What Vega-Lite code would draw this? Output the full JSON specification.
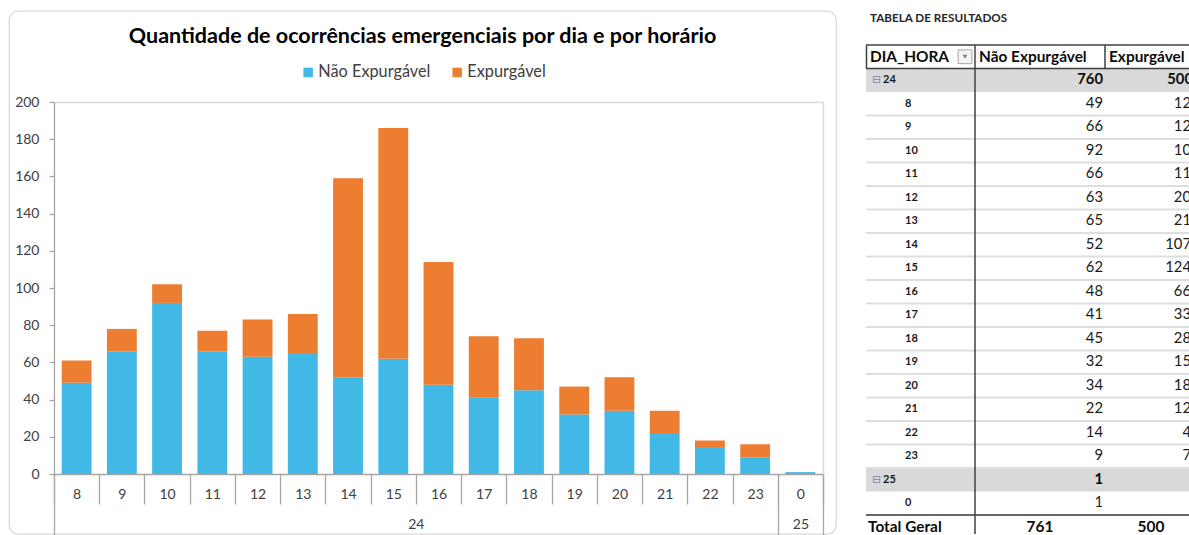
{
  "$schema": "https://vega.github.io/schema/vega-lite/v6.json",
  "background": "white",
  "padding": {"left": 8, "top": 10, "right": 0, "bottom": 0},
  "spacing": 17,
  "config": {"font": "Lato", "view": {"stroke": null}},
  "datasets": {
    "ocorrencias": [
      {"dia": "24", "hora": "8", "tipo": "Não Expurgável", "qtd": 49},
      {"dia": "24", "hora": "8", "tipo": "Expurgável", "qtd": 12},
      {"dia": "24", "hora": "9", "tipo": "Não Expurgável", "qtd": 66},
      {"dia": "24", "hora": "9", "tipo": "Expurgável", "qtd": 12},
      {"dia": "24", "hora": "10", "tipo": "Não Expurgável", "qtd": 92},
      {"dia": "24", "hora": "10", "tipo": "Expurgável", "qtd": 10},
      {"dia": "24", "hora": "11", "tipo": "Não Expurgável", "qtd": 66},
      {"dia": "24", "hora": "11", "tipo": "Expurgável", "qtd": 11},
      {"dia": "24", "hora": "12", "tipo": "Não Expurgável", "qtd": 63},
      {"dia": "24", "hora": "12", "tipo": "Expurgável", "qtd": 20},
      {"dia": "24", "hora": "13", "tipo": "Não Expurgável", "qtd": 65},
      {"dia": "24", "hora": "13", "tipo": "Expurgável", "qtd": 21},
      {"dia": "24", "hora": "14", "tipo": "Não Expurgável", "qtd": 52},
      {"dia": "24", "hora": "14", "tipo": "Expurgável", "qtd": 107},
      {"dia": "24", "hora": "15", "tipo": "Não Expurgável", "qtd": 62},
      {"dia": "24", "hora": "15", "tipo": "Expurgável", "qtd": 124},
      {"dia": "24", "hora": "16", "tipo": "Não Expurgável", "qtd": 48},
      {"dia": "24", "hora": "16", "tipo": "Expurgável", "qtd": 66},
      {"dia": "24", "hora": "17", "tipo": "Não Expurgável", "qtd": 41},
      {"dia": "24", "hora": "17", "tipo": "Expurgável", "qtd": 33},
      {"dia": "24", "hora": "18", "tipo": "Não Expurgável", "qtd": 45},
      {"dia": "24", "hora": "18", "tipo": "Expurgável", "qtd": 28},
      {"dia": "24", "hora": "19", "tipo": "Não Expurgável", "qtd": 32},
      {"dia": "24", "hora": "19", "tipo": "Expurgável", "qtd": 15},
      {"dia": "24", "hora": "20", "tipo": "Não Expurgável", "qtd": 34},
      {"dia": "24", "hora": "20", "tipo": "Expurgável", "qtd": 18},
      {"dia": "24", "hora": "21", "tipo": "Não Expurgável", "qtd": 22},
      {"dia": "24", "hora": "21", "tipo": "Expurgável", "qtd": 12},
      {"dia": "24", "hora": "22", "tipo": "Não Expurgável", "qtd": 14},
      {"dia": "24", "hora": "22", "tipo": "Expurgável", "qtd": 4},
      {"dia": "24", "hora": "23", "tipo": "Não Expurgável", "qtd": 9},
      {"dia": "24", "hora": "23", "tipo": "Expurgável", "qtd": 7},
      {"dia": "25", "hora": "0", "tipo": "Não Expurgável", "qtd": 1}
    ],
    "tabela": [
      {"r": 1, "tipo": "grupo", "rotulo": "24", "ne": 760, "e": 500},
      {"r": 2, "tipo": "hora", "rotulo": "8", "ne": 49, "e": 12},
      {"r": 3, "tipo": "hora", "rotulo": "9", "ne": 66, "e": 12},
      {"r": 4, "tipo": "hora", "rotulo": "10", "ne": 92, "e": 10},
      {"r": 5, "tipo": "hora", "rotulo": "11", "ne": 66, "e": 11},
      {"r": 6, "tipo": "hora", "rotulo": "12", "ne": 63, "e": 20},
      {"r": 7, "tipo": "hora", "rotulo": "13", "ne": 65, "e": 21},
      {"r": 8, "tipo": "hora", "rotulo": "14", "ne": 52, "e": 107},
      {"r": 9, "tipo": "hora", "rotulo": "15", "ne": 62, "e": 124},
      {"r": 10, "tipo": "hora", "rotulo": "16", "ne": 48, "e": 66},
      {"r": 11, "tipo": "hora", "rotulo": "17", "ne": 41, "e": 33},
      {"r": 12, "tipo": "hora", "rotulo": "18", "ne": 45, "e": 28},
      {"r": 13, "tipo": "hora", "rotulo": "19", "ne": 32, "e": 15},
      {"r": 14, "tipo": "hora", "rotulo": "20", "ne": 34, "e": 18},
      {"r": 15, "tipo": "hora", "rotulo": "21", "ne": 22, "e": 12},
      {"r": 16, "tipo": "hora", "rotulo": "22", "ne": 14, "e": 4},
      {"r": 17, "tipo": "hora", "rotulo": "23", "ne": 9, "e": 7},
      {"r": 18, "tipo": "grupo", "rotulo": "25", "ne": 1, "e": null},
      {"r": 19, "tipo": "hora", "rotulo": "0", "ne": 1, "e": null},
      {"r": 20, "tipo": "total", "rotulo": "Total Geral", "ne": 761, "e": 500}
    ]
  },
  "hconcat": [
    {
      "width": 827,
      "height": 523,
      "view": {"stroke": "#d9d9d9", "strokeWidth": 1.3, "cornerRadius": 9, "fill": "white"},
      "title": {
        "text": "Quantidade de ocorrências emergenciais por dia e por horário",
        "anchor": "middle", "frame": "group", "offset": -36,
        "font": "Lato", "fontSize": 21.5, "fontWeight": "bold", "color": "#000000"
      },
      "layer": [
        {
          "data": {"name": "ocorrencias"},
          "mark": {"type": "bar", "width": {"band": 0.66}},
          "encoding": {
            "x": {
              "field": "hora", "type": "nominal", "sort": null,
              "scale": {"domain": ["8","9","10","11","12","13","14","15","16","17","18","19","20","21","22","23","0"], "range": [45, 814], "paddingInner": 0, "paddingOuter": 0},
              "axis": {
                "orient": "bottom", "offset": -60, "title": null,
                "domain": true, "domainColor": "#a6a6a6", "domainWidth": 1.3,
                "tickBand": "extent", "tickSize": 30, "tickColor": "#a6a6a6", "tickWidth": 1.3,
                "labelPadding": -17, "labelFont": "Lato", "labelFontSize": 14, "labelColor": "#404040", "labelAngle": 0, "labelOverlap": false, "labelBound": false,
                "grid": false
              }
            },
            "y": {
              "field": "qtd", "type": "quantitative", "stack": "zero",
              "scale": {"domain": [0, 200], "range": [463, 91], "nice": false, "zero": true},
              "axis": {
                "orient": "left", "offset": -45, "title": null,
                "values": [0, 20, 40, 60, 80, 100, 120, 140, 160, 180, 200],
                "domain": true, "domainColor": "#a6a6a6", "domainWidth": 1.3,
                "ticks": true, "tickSize": 5, "tickColor": "#a6a6a6", "tickWidth": 1.3,
                "labelPadding": 10, "labelFont": "Lato", "labelFontSize": 14, "labelColor": "#404040",
                "grid": false
              }
            },
            "color": {
              "field": "tipo", "type": "nominal",
              "scale": {"domain": ["Não Expurgável", "Expurgável"], "range": ["#41B8E6", "#ED7D31"]},
              "legend": {
                "orient": "none", "legendX": 291, "legendY": 53, "direction": "horizontal",
                "title": null, "symbolType": "square", "symbolSize": 90, "symbolStrokeWidth": 0,
                "labelFont": "Lato", "labelFontSize": 16.3, "labelColor": "#404040",
                "labelOffset": 2, "columnPadding": 18, "padding": 0
              }
            },
            "order": {"field": "tipo", "type": "ordinal", "sort": "descending"}
          }
        },
        {
          "data": {"name": "ocorrencias"},
          "mark": {"type": "tick", "opacity": 0},
          "encoding": {
            "x": {
              "field": "hora", "type": "nominal", "sort": null,
              "scale": {"domain": ["8","9","10","11","12","13","14","15","16","17","18","19","20","21","22","23","0"], "range": [45, 814], "paddingInner": 0, "paddingOuter": 0},
              "axis": {
                "orient": "bottom", "offset": -60, "title": null,
                "domain": false, "grid": false,
                "tickBand": "extent", "tickSize": 61, "tickColor": "#a6a6a6", "tickWidth": 1.3,
                "tickOpacity": {"condition": {"test": "datum.value === '23' || datum.value === '0' || datum.index < 0 || datum.extra", "value": 1}, "value": 0},
                "labelExpr": "datum.value === '15' ? '24' : datum.value === '0' ? '25' : ''",
                "labelOffset": {"condition": {"test": "datum.value === '15'", "value": 22.6}, "value": 0},
                "labelPadding": -18, "labelFont": "Lato", "labelFontSize": 14, "labelColor": "#404040", "labelAngle": 0, "labelOverlap": false, "labelBound": false
              }
            }
          }
        },
        {
          "data": {"name": "ocorrencias"},
          "mark": {"type": "tick", "opacity": 0},
          "encoding": {
            "x": {
              "field": "hora", "type": "nominal", "sort": null,
              "scale": {"domain": ["8","9","10","11","12","13","14","15","16","17","18","19","20","21","22","23","0"], "range": [45, 814], "paddingInner": 0, "paddingOuter": 0},
              "axis": {
                "orient": "top", "offset": -91, "title": null,
                "domain": true, "domainColor": "#d9d9d9", "domainWidth": 1.5,
                "ticks": false, "labels": false, "grid": false
              }
            },
            "y": {
              "field": "qtd", "type": "quantitative",
              "scale": {"domain": [0, 200], "range": [463, 91], "nice": false, "zero": true},
              "axis": {
                "orient": "right", "offset": -13, "title": null,
                "domain": true, "domainColor": "#d9d9d9", "domainWidth": 1.5,
                "ticks": false, "labels": false, "grid": false
              }
            }
          }
        }
      ],
      "resolve": {"axis": {"x": "independent", "y": "independent"}}
    },
    {
      "width": 323,
      "height": 523,
      "view": {"stroke": null},
      "title": {
        "text": "TABELA DE RESULTADOS", "anchor": "start", "frame": "group", "dx": 4, "offset": -13.5,
        "font": "Lato", "fontSize": 11.7, "fontWeight": "bold", "color": "#262626"
      },
      "layer": [
        {
          "data": {"name": "tabela"},
          "transform": [{"filter": "datum.tipo === 'grupo'"}],
          "mark": {"type": "rule", "color": "#d9d9d9", "strokeWidth": 23.5},
          "encoding": {"y": {"field": "r", "type": "quantitative", "scale": {"domain": [-1.947, 20.31], "reverse": true, "nice": false, "zero": false}, "axis": null}}
        },
        {
          "data": {"name": "tabela"},
          "transform": [{"filter": "datum.tipo === 'hora'"}],
          "mark": {"type": "rule", "color": "#dedede", "strokeWidth": 2, "yOffset": 11.75},
          "encoding": {"y": {"field": "r", "type": "quantitative", "scale": {"domain": [-1.947, 20.31], "reverse": true, "nice": false, "zero": false}, "axis": null}}
        },
        {
          "data": {"values": [{}]},
          "mark": {"type": "rule", "color": "#404040", "strokeWidth": 1.5},
          "encoding": {"y": {"datum": -0.5, "type": "quantitative", "scale": {"domain": [-1.947, 20.31], "reverse": true, "nice": false, "zero": false}, "axis": null}}
        },
        {
          "data": {"values": [{}]},
          "mark": {"type": "rule", "color": "#404040", "strokeWidth": 1.5},
          "encoding": {"y": {"datum": 0.5, "type": "quantitative", "scale": {"domain": [-1.947, 20.31], "reverse": true, "nice": false, "zero": false}, "axis": null}}
        },
        {
          "data": {"values": [{}]},
          "mark": {"type": "rule", "color": "#404040", "strokeWidth": 1.5},
          "encoding": {"y": {"datum": 19.5, "type": "quantitative", "scale": {"domain": [-1.947, 20.31], "reverse": true, "nice": false, "zero": false}, "axis": null}}
        },
        {
          "data": {"values": [{}]},
          "mark": {"type": "rule", "color": "#404040", "strokeWidth": 1.5},
          "encoding": {
            "x": {"datum": 109, "type": "quantitative", "scale": {"domain": [0, 323], "nice": false, "zero": false}, "axis": null},
            "y": {"datum": -0.5, "type": "quantitative", "scale": {"domain": [-1.947, 20.31], "reverse": true, "nice": false, "zero": false}, "axis": null},
            "y2": {"datum": 20.31}
          }
        },
        {
          "data": {"values": [{}]},
          "mark": {"type": "rule", "color": "#404040", "strokeWidth": 1.5},
          "encoding": {
            "x": {"datum": 0.5, "type": "quantitative", "scale": {"domain": [0, 323], "nice": false, "zero": false}, "axis": null},
            "y": {"datum": -0.5, "type": "quantitative", "scale": {"domain": [-1.947, 20.31], "reverse": true, "nice": false, "zero": false}, "axis": null},
            "y2": {"datum": 0.5}
          }
        },
        {
          "data": {"values": [{}]},
          "mark": {"type": "rule", "color": "#404040", "strokeWidth": 1.5},
          "encoding": {
            "x": {"datum": 239, "type": "quantitative", "scale": {"domain": [0, 323], "nice": false, "zero": false}, "axis": null},
            "y": {"datum": -0.5, "type": "quantitative", "scale": {"domain": [-1.947, 20.31], "reverse": true, "nice": false, "zero": false}, "axis": null},
            "y2": {"datum": 0.5}
          }
        },
        {
          "data": {"values": [{}]},
          "mark": {"type": "point", "shape": "square", "size": 190, "filled": true, "fill": "#f4f4f4", "stroke": "#a6a6a6", "strokeWidth": 1, "opacity": 1},
          "encoding": {
            "x": {"datum": 99, "type": "quantitative", "scale": {"domain": [0, 323], "nice": false, "zero": false}, "axis": null},
            "y": {"datum": 0, "type": "quantitative", "scale": {"domain": [-1.947, 20.31], "reverse": true, "nice": false, "zero": false}, "axis": null}
          }
        },
        {
          "data": {"values": [{}]},
          "mark": {"type": "point", "shape": "triangle-down", "size": 22, "filled": true, "color": "#7f7f7f", "opacity": 1},
          "encoding": {
            "x": {"datum": 99, "type": "quantitative", "scale": {"domain": [0, 323], "nice": false, "zero": false}, "axis": null},
            "y": {"datum": 0, "type": "quantitative", "scale": {"domain": [-1.947, 20.31], "reverse": true, "nice": false, "zero": false}, "axis": null}
          }
        },
        {
          "data": {"values": [{}]},
          "mark": {"type": "text", "text": "DIA_HORA", "align": "left", "baseline": "middle", "font": "Lato", "fontSize": 15.4, "fontWeight": "bold", "color": "#0d0d0d"},
          "encoding": {
            "x": {"datum": 4, "type": "quantitative", "scale": {"domain": [0, 323], "nice": false, "zero": false}, "axis": null},
            "y": {"datum": 0, "type": "quantitative", "scale": {"domain": [-1.947, 20.31], "reverse": true, "nice": false, "zero": false}, "axis": null}
          }
        },
        {
          "data": {"values": [{}]},
          "mark": {"type": "text", "text": "Não Expurgável", "align": "left", "baseline": "middle", "font": "Lato", "fontSize": 15.4, "fontWeight": "bold", "color": "#0d0d0d"},
          "encoding": {
            "x": {"datum": 113, "type": "quantitative", "scale": {"domain": [0, 323], "nice": false, "zero": false}, "axis": null},
            "y": {"datum": 0, "type": "quantitative", "scale": {"domain": [-1.947, 20.31], "reverse": true, "nice": false, "zero": false}, "axis": null}
          }
        },
        {
          "data": {"values": [{}]},
          "mark": {"type": "text", "text": "Expurgável", "align": "left", "baseline": "middle", "font": "Lato", "fontSize": 15.4, "fontWeight": "bold", "color": "#0d0d0d", "clip": true},
          "encoding": {
            "x": {"datum": 243, "type": "quantitative", "scale": {"domain": [0, 323], "nice": false, "zero": false}, "axis": null},
            "y": {"datum": 0, "type": "quantitative", "scale": {"domain": [-1.947, 20.31], "reverse": true, "nice": false, "zero": false}, "axis": null}
          }
        },
        {
          "data": {"name": "tabela"},
          "transform": [{"filter": "datum.tipo === 'grupo'"}],
          "mark": {"type": "text", "text": "⊟", "align": "left", "baseline": "middle", "font": "DejaVu Sans", "fontSize": 11, "color": "#7a8fae"},
          "encoding": {
            "x": {"datum": 6, "type": "quantitative", "scale": {"domain": [0, 323], "nice": false, "zero": false}, "axis": null},
            "y": {"field": "r", "type": "quantitative", "scale": {"domain": [-1.947, 20.31], "reverse": true, "nice": false, "zero": false}, "axis": null}
          }
        },
        {
          "data": {"name": "tabela"},
          "transform": [{"filter": "datum.tipo === 'grupo'"}],
          "mark": {"type": "text", "align": "left", "baseline": "middle", "font": "Lato", "fontSize": 11, "fontWeight": "bold", "color": "#1a1a1a"},
          "encoding": {
            "x": {"datum": 17, "type": "quantitative", "scale": {"domain": [0, 323], "nice": false, "zero": false}, "axis": null},
            "y": {"field": "r", "type": "quantitative", "scale": {"domain": [-1.947, 20.31], "reverse": true, "nice": false, "zero": false}, "axis": null},
            "text": {"field": "rotulo", "type": "nominal"}
          }
        },
        {
          "data": {"name": "tabela"},
          "transform": [{"filter": "datum.tipo === 'hora'"}],
          "mark": {"type": "text", "align": "left", "baseline": "middle", "font": "Lato", "fontSize": 11, "fontWeight": "bold", "color": "#1a1a1a"},
          "encoding": {
            "x": {"datum": 39, "type": "quantitative", "scale": {"domain": [0, 323], "nice": false, "zero": false}, "axis": null},
            "y": {"field": "r", "type": "quantitative", "scale": {"domain": [-1.947, 20.31], "reverse": true, "nice": false, "zero": false}, "axis": null},
            "text": {"field": "rotulo", "type": "nominal"}
          }
        },
        {
          "data": {"name": "tabela"},
          "transform": [{"filter": "datum.tipo === 'hora'"}],
          "mark": {"type": "text", "align": "right", "baseline": "middle", "font": "Lato", "fontSize": 14.8, "color": "#1a1a1a"},
          "encoding": {
            "x": {"datum": 237, "type": "quantitative", "scale": {"domain": [0, 323], "nice": false, "zero": false}, "axis": null},
            "y": {"field": "r", "type": "quantitative", "scale": {"domain": [-1.947, 20.31], "reverse": true, "nice": false, "zero": false}, "axis": null},
            "text": {"field": "ne", "type": "quantitative", "format": "d"}
          }
        },
        {
          "data": {"name": "tabela"},
          "transform": [{"filter": "datum.tipo === 'grupo'"}],
          "mark": {"type": "text", "align": "right", "baseline": "middle", "font": "Lato", "fontSize": 14.8, "fontWeight": "bold", "color": "#0d0d0d"},
          "encoding": {
            "x": {"datum": 237, "type": "quantitative", "scale": {"domain": [0, 323], "nice": false, "zero": false}, "axis": null},
            "y": {"field": "r", "type": "quantitative", "scale": {"domain": [-1.947, 20.31], "reverse": true, "nice": false, "zero": false}, "axis": null},
            "text": {"field": "ne", "type": "quantitative", "format": "d"}
          }
        },
        {
          "data": {"name": "tabela"},
          "transform": [{"filter": "datum.tipo === 'hora' && datum.e != null"}],
          "mark": {"type": "text", "align": "right", "baseline": "middle", "font": "Lato", "fontSize": 14.8, "color": "#1a1a1a", "clip": true},
          "encoding": {
            "x": {"datum": 325, "type": "quantitative", "scale": {"domain": [0, 323], "nice": false, "zero": false}, "axis": null},
            "y": {"field": "r", "type": "quantitative", "scale": {"domain": [-1.947, 20.31], "reverse": true, "nice": false, "zero": false}, "axis": null},
            "text": {"field": "e", "type": "quantitative", "format": "d"}
          }
        },
        {
          "data": {"name": "tabela"},
          "transform": [{"filter": "datum.tipo === 'grupo' && datum.e != null"}],
          "mark": {"type": "text", "align": "right", "baseline": "middle", "font": "Lato", "fontSize": 14.8, "fontWeight": "bold", "color": "#0d0d0d", "clip": true},
          "encoding": {
            "x": {"datum": 327, "type": "quantitative", "scale": {"domain": [0, 323], "nice": false, "zero": false}, "axis": null},
            "y": {"field": "r", "type": "quantitative", "scale": {"domain": [-1.947, 20.31], "reverse": true, "nice": false, "zero": false}, "axis": null},
            "text": {"field": "e", "type": "quantitative", "format": "d"}
          }
        },
        {
          "data": {"name": "tabela"},
          "transform": [{"filter": "datum.tipo === 'total'"}],
          "mark": {"type": "text", "align": "left", "baseline": "middle", "font": "Lato", "fontSize": 15.4, "fontWeight": "bold", "color": "#0d0d0d"},
          "encoding": {
            "x": {"datum": 2, "type": "quantitative", "scale": {"domain": [0, 323], "nice": false, "zero": false}, "axis": null},
            "y": {"field": "r", "type": "quantitative", "scale": {"domain": [-1.947, 20.31], "reverse": true, "nice": false, "zero": false}, "axis": null},
            "text": {"field": "rotulo", "type": "nominal"}
          }
        },
        {
          "data": {"name": "tabela"},
          "transform": [{"filter": "datum.tipo === 'total'"}],
          "mark": {"type": "text", "align": "center", "baseline": "middle", "font": "Lato", "fontSize": 15.4, "fontWeight": "bold", "color": "#0d0d0d"},
          "encoding": {
            "x": {"datum": 174, "type": "quantitative", "scale": {"domain": [0, 323], "nice": false, "zero": false}, "axis": null},
            "y": {"field": "r", "type": "quantitative", "scale": {"domain": [-1.947, 20.31], "reverse": true, "nice": false, "zero": false}, "axis": null},
            "text": {"field": "ne", "type": "quantitative", "format": "d"}
          }
        },
        {
          "data": {"name": "tabela"},
          "transform": [{"filter": "datum.tipo === 'total'"}],
          "mark": {"type": "text", "align": "center", "baseline": "middle", "font": "Lato", "fontSize": 15.4, "fontWeight": "bold", "color": "#0d0d0d", "clip": true},
          "encoding": {
            "x": {"datum": 285, "type": "quantitative", "scale": {"domain": [0, 323], "nice": false, "zero": false}, "axis": null},
            "y": {"field": "r", "type": "quantitative", "scale": {"domain": [-1.947, 20.31], "reverse": true, "nice": false, "zero": false}, "axis": null},
            "text": {"field": "e", "type": "quantitative", "format": "d"}
          }
        }
      ]
    }
  ]
}
